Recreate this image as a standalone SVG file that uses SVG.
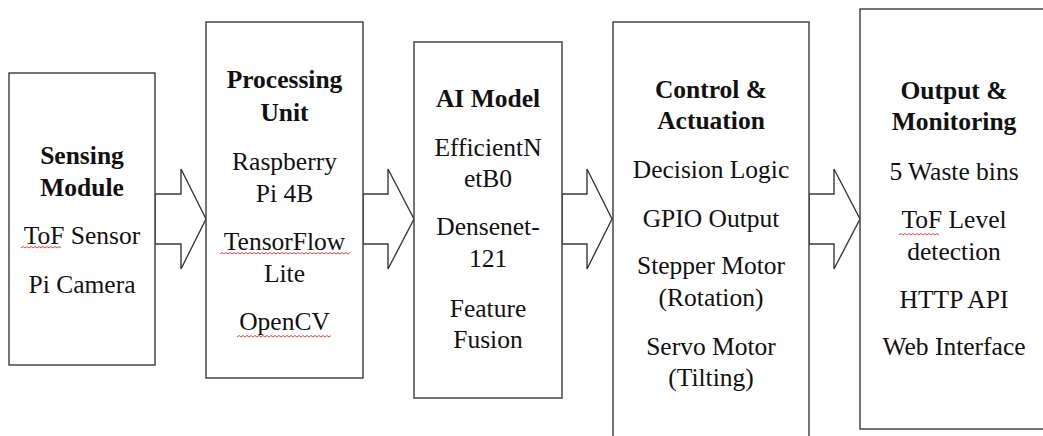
<svg xmlns="http://www.w3.org/2000/svg" width="1043" height="436" viewBox="0 0 1043 436">
<defs>
<style>
.box{fill:#fff;stroke:#3a3a3a;stroke-width:1.4}
.arr{fill:#fff;stroke:#3a3a3a;stroke-width:1.4;stroke-linejoin:miter}
.t{font-size:25.5px;fill:#111;text-anchor:middle}
.b{font-weight:bold}
.sq{fill:none;stroke:#e0443c;stroke-width:1}
</style>
</defs>
<rect width="1043" height="436" fill="#fff"/>
<g id="connectors">
<polygon class="arr" points="155,194 181,194 181,169 206,219 181,269 181,244 155,244"/>
<polygon class="arr" points="363,194 388,194 388,169 414,219 388,269 388,244 363,244"/>
<polygon class="arr" points="562,194 587,194 587,169 612,219 587,269 587,244 562,244"/>
<polygon class="arr" points="809,194 834,194 834,169 860,219 834,269 834,244 809,244"/>
</g>
<g font-family="'Liberation Serif', Tinos, 'DejaVu Serif', serif">
<g id="sensing">
<rect class="box" x="9" y="73" width="146" height="292"/>
<text class="t b" x="82" y="164">Sensing</text>
<text class="t b" x="82" y="196">Module</text>
<text class="t" x="82" y="244">ToF Sensor</text>
<text class="t" x="82" y="293">Pi Camera</text>
<path class="sq" d="M21,248 l2,-1.5 l2,1.5 l2,-1.5 l2,1.5 l2,-1.5 l2,1.5 l2,-1.5 l2,1.5 l2,-1.5 l2,1.5 l2,-1.5 l2,1.5 l2,-1.5 l2,1.5 l2,-1.5 l2,1.5 l2,-1.5 l2,1.5 l2,-1.5 l2,1.5"/>
</g>
<g id="processing">
<rect class="box" x="206" y="22" width="157" height="356"/>
<text class="t b" x="284.5" y="88">Processing</text>
<text class="t b" x="284.5" y="121">Unit</text>
<text class="t" x="284.5" y="170">Raspberry</text>
<text class="t" x="284.5" y="202">Pi 4B</text>
<text class="t" x="284.5" y="250">TensorFlow</text>
<text class="t" x="284.5" y="282">Lite</text>
<text class="t" x="284.5" y="330">OpenCV</text>
<path class="sq" d="M220,254 l2,-1.5 l2,1.5 l2,-1.5 l2,1.5 l2,-1.5 l2,1.5 l2,-1.5 l2,1.5 l2,-1.5 l2,1.5 l2,-1.5 l2,1.5 l2,-1.5 l2,1.5 l2,-1.5 l2,1.5 l2,-1.5 l2,1.5 l2,-1.5 l2,1.5 l2,-1.5 l2,1.5 l2,-1.5 l2,1.5 l2,-1.5 l2,1.5 l2,-1.5 l2,1.5 l2,-1.5 l2,1.5 l2,-1.5 l2,1.5 l2,-1.5 l2,1.5 l2,-1.5 l2,1.5 l2,-1.5 l2,1.5 l2,-1.5 l2,1.5 l2,-1.5 l2,1.5 l2,-1.5 l2,1.5 l2,-1.5 l2,1.5 l2,-1.5 l2,1.5 l2,-1.5 l2,1.5 l2,-1.5 l2,1.5 l2,-1.5 l2,1.5 l2,-1.5 l2,1.5 l2,-1.5 l2,1.5 l2,-1.5 l2,1.5 l2,-1.5 l2,1.5 l2,-1.5 l2,1.5 l2,-1.5"/>
<path class="sq" d="M237,337 l2,-1.5 l2,1.5 l2,-1.5 l2,1.5 l2,-1.5 l2,1.5 l2,-1.5 l2,1.5 l2,-1.5 l2,1.5 l2,-1.5 l2,1.5 l2,-1.5 l2,1.5 l2,-1.5 l2,1.5 l2,-1.5 l2,1.5 l2,-1.5 l2,1.5 l2,-1.5 l2,1.5 l2,-1.5 l2,1.5 l2,-1.5 l2,1.5 l2,-1.5 l2,1.5 l2,-1.5 l2,1.5 l2,-1.5 l2,1.5 l2,-1.5 l2,1.5 l2,-1.5 l2,1.5 l2,-1.5 l2,1.5 l2,-1.5 l2,1.5 l2,-1.5 l2,1.5 l2,-1.5 l2,1.5 l2,-1.5 l2,1.5 l2,-1.5"/>
</g>
<g id="ai-model">
<rect class="box" x="414" y="42" width="148" height="356"/>
<text class="t b" x="488" y="107">AI Model</text>
<text class="t" x="488" y="156">EfficientN</text>
<text class="t" x="488" y="187">etB0</text>
<text class="t" x="488" y="235">Densenet-</text>
<text class="t" x="488" y="267">121</text>
<text class="t" x="488" y="317">Feature</text>
<text class="t" x="488" y="348">Fusion</text>
</g>
<g id="control">
<rect class="box" x="613" y="22" width="196" height="420"/>
<text class="t b" x="711" y="98">Control &amp;</text>
<text class="t b" x="711" y="129">Actuation</text>
<text class="t" x="711" y="178">Decision Logic</text>
<text class="t" x="711" y="227">GPIO Output</text>
<text class="t" x="711" y="274">Stepper Motor</text>
<text class="t" x="711" y="306">(Rotation)</text>
<text class="t" x="711" y="355">Servo Motor</text>
<text class="t" x="711" y="386">(Tilting)</text>
</g>
<g id="output">
<rect class="box" x="860" y="9" width="190" height="420"/>
<text class="t b" x="954" y="99">Output &amp;</text>
<text class="t b" x="954" y="130">Monitoring</text>
<text class="t" x="954" y="180">5 Waste bins</text>
<text class="t" x="954" y="228">ToF Level</text>
<text class="t" x="954" y="260">detection</text>
<text class="t" x="954" y="308">HTTP API</text>
<text class="t" x="954" y="355">Web Interface</text>
<path class="sq" d="M899,235 l2,-1.5 l2,1.5 l2,-1.5 l2,1.5 l2,-1.5 l2,1.5 l2,-1.5 l2,1.5 l2,-1.5 l2,1.5 l2,-1.5 l2,1.5 l2,-1.5 l2,1.5 l2,-1.5 l2,1.5 l2,-1.5 l2,1.5 l2,-1.5 l2,1.5"/>
</g>
</g>
</svg>
